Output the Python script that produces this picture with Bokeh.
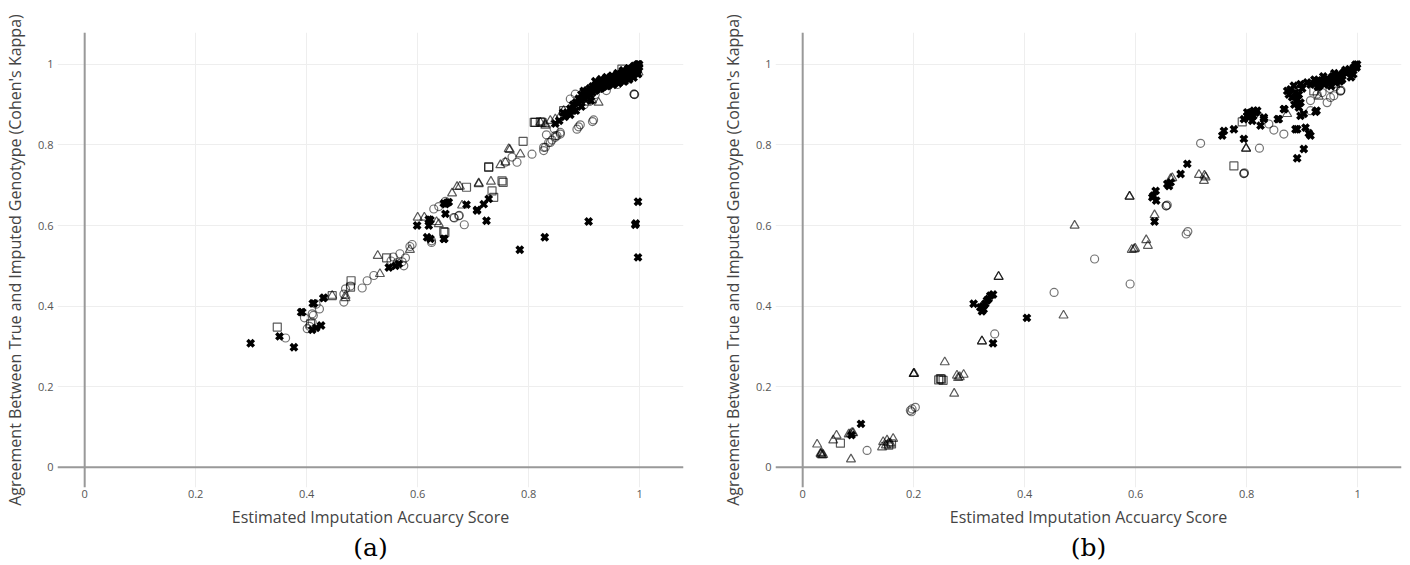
from bokeh.plotting import figure
from bokeh.layouts import row
from bokeh.models import Span, Title, Range1d, FixedTicker
from bokeh.embed import file_html
from bokeh.resources import INLINE

# ---- shared axis ticks ----
tick_values = [0, 0.2, 0.4, 0.6, 0.8, 1]
tick_labels = ["0", "0.2", "0.4", "0.6", "0.8", "1"]

x_title = "Estimated Imputation Accuarcy Score"
y_title = "Agreement Between True and Imputed Genotype (Cohen's Kappa)"

# ---- panel (a) ----
a_circle_x = [0.362, 0.396, 0.401, 0.405, 0.410, 0.410, 0.412, 0.417, 0.423, 0.467, 0.467, 0.470,
              0.479, 0.500, 0.509, 0.521, 0.552, 0.556, 0.563, 0.568, 0.572, 0.578, 0.575, 0.590,
              0.586, 0.625, 0.625, 0.629, 0.638, 0.650, 0.665, 0.674, 0.684, 0.666, 0.675,
              0.758, 0.770, 0.779, 0.806, 0.827, 0.830, 0.827, 0.836, 0.839, 0.842, 0.848, 0.848,
              0.851, 0.857, 0.857, 0.832, 0.846, 0.887, 0.893, 0.890, 0.917, 0.915, 0.875, 0.884,
              0.878, 0.930, 0.940, 0.950, 0.960, 0.970, 0.975, 0.985, 0.990, 0.995, 0.900, 0.910,
              0.920, 0.990, 0.990, 0.991]
a_circle_y = [0.321, 0.371, 0.344, 0.350, 0.381, 0.360, 0.377, 0.405, 0.393, 0.410, 0.430, 0.443,
              0.450, 0.445, 0.463, 0.476, 0.512, 0.522, 0.508, 0.530, 0.510, 0.520, 0.500, 0.553,
              0.548, 0.558, 0.562, 0.641, 0.647, 0.660, 0.620, 0.624, 0.602, 0.619, 0.625,
              0.757, 0.770, 0.757, 0.777, 0.786, 0.794, 0.794, 0.806, 0.806, 0.812, 0.819, 0.823,
              0.823, 0.827, 0.831, 0.825, 0.840, 0.839, 0.850, 0.845, 0.862, 0.858, 0.914, 0.926,
              0.893, 0.940, 0.935, 0.955, 0.950, 0.965, 0.960, 0.975, 0.985, 0.990, 0.900, 0.915,
              0.925, 0.926, 0.926, 0.925]

a_tri_x = [0.446, 0.470, 0.470, 0.528, 0.532, 0.586, 0.600, 0.612, 0.634, 0.638, 0.662, 0.671,
           0.676, 0.680, 0.710, 0.710, 0.732, 0.749, 0.758, 0.764, 0.766, 0.785, 0.821, 0.830,
           0.830, 0.839, 0.848, 0.857, 0.863, 0.905, 0.914, 0.926, 0.995, 0.998, 0.940, 0.960,
           0.975, 0.985]
a_tri_y = [0.426, 0.420, 0.426, 0.525, 0.480, 0.540, 0.620, 0.620, 0.609, 0.604, 0.680, 0.696,
           0.697, 0.650, 0.703, 0.705, 0.709, 0.750, 0.757, 0.790, 0.788, 0.777, 0.856, 0.852,
           0.848, 0.860, 0.864, 0.872, 0.885, 0.905, 0.911, 0.905, 0.976, 0.980, 0.945, 0.965,
           0.970, 0.990]

a_sq_x = [0.347, 0.407, 0.446, 0.480, 0.479, 0.544, 0.647, 0.649, 0.688, 0.728, 0.728, 0.734,
          0.737, 0.752, 0.754, 0.790, 0.810, 0.812, 0.821, 0.824, 0.863, 0.968, 0.995]
a_sq_y = [0.348, 0.356, 0.426, 0.463, 0.447, 0.520, 0.585, 0.583, 0.695, 0.744, 0.746, 0.686,
          0.670, 0.711, 0.707, 0.809, 0.856, 0.856, 0.857, 0.856, 0.885, 0.988, 0.995]

a_x_x = [0.299, 0.351, 0.377, 0.390, 0.392, 0.411, 0.413, 0.410, 0.417, 0.426, 0.430, 0.431,
         0.548, 0.566, 0.560, 0.599, 0.617, 0.623, 0.620, 0.623, 0.620, 0.647, 0.648, 0.647,
         0.650, 0.653, 0.656, 0.650, 0.688, 0.707, 0.707, 0.719, 0.728, 0.724,
         0.784, 0.829, 0.908, 0.992, 0.993, 0.997, 0.997,
         0.848, 0.855, 0.862, 0.870, 0.875, 0.880, 0.885, 0.890, 0.895, 0.899, 0.903, 0.900,
         0.905, 0.910, 0.912, 0.865, 0.875, 0.880, 0.885, 0.890, 0.895, 0.895, 0.900, 0.905,
         0.910, 0.915,
         0.915, 0.920, 0.925, 0.928, 0.932, 0.935, 0.940, 0.942, 0.946, 0.950, 0.953, 0.956,
         0.960, 0.963, 0.966, 0.970, 0.973, 0.976, 0.979, 0.982, 0.985, 0.988, 0.991, 0.994,
         0.997, 0.999, 0.999, 0.996, 0.980, 0.970,
         0.920, 0.921, 0.930, 0.931, 0.940, 0.941, 0.950, 0.952, 0.960, 0.962, 0.970, 0.972,
         0.980, 0.981, 0.990, 0.989, 0.998, 0.997, 0.925, 0.945, 0.955, 0.975, 0.985, 0.995]
a_x_y = [0.308, 0.325, 0.298, 0.385, 0.385, 0.407, 0.407, 0.341, 0.346, 0.352, 0.420, 0.421,
         0.496, 0.505, 0.500, 0.600, 0.571, 0.567, 0.615, 0.614, 0.600, 0.567, 0.567, 0.655,
         0.653, 0.657, 0.658, 0.629, 0.652, 0.637, 0.639, 0.653, 0.666, 0.612,
         0.540, 0.571, 0.610, 0.602, 0.605, 0.659, 0.521,
         0.853, 0.860, 0.880, 0.878, 0.890, 0.900, 0.885, 0.905, 0.895, 0.934, 0.930, 0.915,
         0.920, 0.925, 0.910, 0.870, 0.875, 0.885, 0.905, 0.915, 0.910, 0.925, 0.930, 0.935,
         0.940, 0.930,
         0.945, 0.935, 0.950, 0.940, 0.955, 0.945, 0.960, 0.950, 0.962, 0.955, 0.968, 0.960,
         0.972, 0.965, 0.976, 0.970, 0.980, 0.975, 0.985, 0.978, 0.990, 0.984, 0.993, 0.988,
         0.997, 0.993, 1.000, 1.000, 0.990, 0.985,
         0.958, 0.936, 0.963, 0.941, 0.968, 0.946, 0.972, 0.949, 0.978, 0.953, 0.984, 0.957,
         0.990, 0.962, 0.996, 0.967, 1.000, 0.976, 0.947, 0.955, 0.965, 0.978, 0.972, 0.982]

# ---- panel (b) ----
b_circle_x = [0.116, 0.194, 0.197, 0.203, 0.196, 0.346, 0.453, 0.526, 0.590, 0.655, 0.655, 0.657,
              0.691, 0.694, 0.717, 0.795, 0.795, 0.796, 0.823, 0.840, 0.849, 0.867, 0.915, 0.915,
              0.927, 0.936, 0.951, 0.957, 0.945, 0.950, 0.960, 0.969, 0.969, 0.970, 0.930, 0.970,
              0.980, 0.990]
b_circle_y = [0.042, 0.141, 0.145, 0.149, 0.138, 0.331, 0.434, 0.517, 0.455, 0.649, 0.649, 0.651,
              0.579, 0.585, 0.804, 0.729, 0.729, 0.731, 0.792, 0.852, 0.837, 0.827, 0.885, 0.910,
              0.926, 0.930, 0.918, 0.922, 0.905, 0.940, 0.945, 0.934, 0.934, 0.936, 0.950, 0.960,
              0.975, 0.985]

b_tri_x = [0.026, 0.032, 0.035, 0.033, 0.037, 0.034, 0.055, 0.061, 0.087, 0.083, 0.086, 0.091,
           0.089, 0.143, 0.145, 0.152, 0.158, 0.163, 0.150, 0.155, 0.200, 0.200, 0.201, 0.256,
           0.273, 0.278, 0.283, 0.290, 0.280, 0.323, 0.323, 0.353, 0.353, 0.470, 0.490, 0.589,
           0.589, 0.593, 0.597, 0.599, 0.619, 0.622, 0.634, 0.666, 0.663, 0.714, 0.724, 0.723,
           0.726, 0.799, 0.799, 0.873, 0.930, 0.960]
b_tri_y = [0.057, 0.034, 0.030, 0.032, 0.031, 0.036, 0.067, 0.079, 0.020, 0.082, 0.083, 0.085,
           0.086, 0.050, 0.063, 0.067, 0.059, 0.071, 0.055, 0.060, 0.232, 0.232, 0.233, 0.261,
           0.183, 0.228, 0.224, 0.230, 0.222, 0.313, 0.313, 0.473, 0.473, 0.377, 0.600, 0.672,
           0.672, 0.540, 0.541, 0.543, 0.564, 0.550, 0.626, 0.718, 0.716, 0.726, 0.724, 0.711,
           0.720, 0.791, 0.791, 0.877, 0.920, 0.950]

b_sq_x = [0.068, 0.155, 0.160, 0.245, 0.248, 0.253, 0.250, 0.777, 0.792, 0.921, 0.950]
b_sq_y = [0.060, 0.055, 0.058, 0.217, 0.220, 0.216, 0.219, 0.748, 0.857, 0.934, 0.960]

b_x_x = [0.088, 0.105, 0.308, 0.320, 0.323, 0.326, 0.329, 0.332, 0.335, 0.338, 0.343, 0.325,
         0.343, 0.404,
         0.630, 0.632, 0.636, 0.637, 0.634, 0.657, 0.663, 0.660, 0.681, 0.693,
         0.756, 0.759, 0.777, 0.795, 0.795, 0.801, 0.801, 0.804, 0.807, 0.810, 0.813, 0.819,
         0.825, 0.831, 0.831, 0.805, 0.812, 0.816,
         0.856, 0.858, 0.867, 0.868, 0.873, 0.879, 0.885, 0.882, 0.888, 0.891, 0.891, 0.891,
         0.894, 0.897, 0.897, 0.897, 0.903, 0.903, 0.906, 0.909, 0.912, 0.915, 0.924, 0.926,
         0.876, 0.888, 0.900, 0.886, 0.894,
         0.915, 0.925, 0.935, 0.940, 0.945, 0.950, 0.955, 0.960, 0.965, 0.970, 0.975, 0.980,
         0.985, 0.990, 0.993, 0.997, 0.999, 0.996, 0.930, 0.960, 0.985,
         0.922, 0.928, 0.938, 0.948, 0.958, 0.968, 0.978, 0.988, 0.998, 0.932, 0.952, 0.972,
         0.992]
b_x_y = [0.080, 0.108, 0.406, 0.397, 0.387, 0.392, 0.406, 0.414, 0.418, 0.426, 0.429, 0.400,
         0.308, 0.371,
         0.670, 0.674, 0.686, 0.662, 0.610, 0.703, 0.707, 0.698, 0.728, 0.753,
         0.823, 0.835, 0.839, 0.815, 0.864, 0.881, 0.872, 0.868, 0.877, 0.860, 0.885, 0.885,
         0.848, 0.868, 0.864, 0.878, 0.872, 0.880,
         0.864, 0.864, 0.889, 0.889, 0.934, 0.938, 0.947, 0.918, 0.839, 0.839, 0.911, 0.767,
         0.893, 0.905, 0.872, 0.951, 0.877, 0.790, 0.843, 0.955, 0.829, 0.823, 0.882, 0.885,
         0.925, 0.930, 0.940, 0.900, 0.925,
         0.950, 0.955, 0.960, 0.950, 0.965, 0.960, 0.970, 0.965, 0.975, 0.970, 0.980, 0.978,
         0.988, 0.985, 0.992, 0.995, 1.000, 0.999, 0.945, 0.955, 0.980,
         0.962, 0.944, 0.970, 0.952, 0.978, 0.958, 0.986, 0.968, 0.992, 0.958, 0.946, 0.962,
         0.975]

panels = [
    dict(tag="(a)", circle=(a_circle_x, a_circle_y), tri=(a_tri_x, a_tri_y),
         sq=(a_sq_x, a_sq_y), cross=(a_x_x, a_x_y)),
    dict(tag="(b)", circle=(b_circle_x, b_circle_y), tri=(b_tri_x, b_tri_y),
         sq=(b_sq_x, b_sq_y), cross=(b_x_x, b_x_y)),
]

FONT = "Open Sans"
AXIS_GREY = "#444444"
FRAME_W = 626
FRAME_H = 455


def make_panel(spec, border_left, border_right):
    p = figure(width=border_left + FRAME_W + border_right, height=565,
               output_backend="svg", toolbar_location=None,
               x_range=Range1d(-0.049, 1.079), y_range=Range1d(-0.05, 1.079),
               min_border_left=border_left, min_border_right=border_right,
               min_border_top=32, min_border_bottom=565 - 32 - FRAME_H)
    p.outline_line_color = None
    p.background_fill_color = "white"
    p.border_fill_color = "white"

    for ax in (p.xaxis[0], p.yaxis[0]):
        ax.ticker = FixedTicker(ticks=tick_values)
        ax.major_label_overrides = dict(zip(tick_values, tick_labels))
        ax.axis_line_color = None
        ax.major_tick_line_color = None
        ax.major_tick_out = 0
        ax.major_tick_in = 0
        ax.minor_tick_line_color = None
        ax.minor_tick_out = 0
        ax.minor_tick_in = 0
        ax.major_label_text_font = FONT
        ax.major_label_text_font_size = "11px"
        ax.major_label_text_color = "#555555"
        ax.axis_label_text_font = FONT
        ax.axis_label_text_font_size = "16px"
        ax.axis_label_text_font_style = "normal"
        ax.axis_label_text_color = AXIS_GREY
    p.xaxis.axis_label = x_title
    p.yaxis.axis_label = y_title
    p.xaxis.major_label_standoff = 2
    p.xaxis.axis_label_standoff = 5
    p.yaxis.major_label_standoff = 4
    p.yaxis.axis_label_standoff = 9

    p.xgrid.ticker = FixedTicker(ticks=tick_values)
    p.ygrid.ticker = FixedTicker(ticks=tick_values)
    p.grid.grid_line_color = "#eeeeee"
    p.grid.grid_line_width = 1

    # zero lines drawn under the markers
    for dim in ("height", "width"):
        p.add_layout(Span(location=0, dimension=dim, line_color="#999999",
                          line_width=2, level="underlay"))

    cx, cy = spec["circle"]
    p.scatter(cx, cy, marker="circle", size=8, fill_color=None,
              line_color="black", line_alpha=0.55, line_width=1.2)
    tx, ty = spec["tri"]
    p.scatter(tx, ty, marker="triangle", size=9, fill_color=None,
              line_color="black", line_alpha=0.65, line_width=1.2)
    sx, sy = spec["sq"]
    p.scatter(sx, sy, marker="square", size=8, fill_color=None,
              line_color="black", line_alpha=0.65, line_width=1.2)
    xx, xy = spec["cross"]
    p.scatter(xx, xy, marker="x", size=9, line_color="black", line_width=3.5)

    # panel tag under the axis title
    tag = Title(text=spec["tag"], align="center", offset=-22,
                text_font="DejaVu Serif", text_font_size="25px",
                text_font_style="normal", text_color="black", standoff=1)
    p.add_layout(tag, "below")
    return p


p1 = make_panel(panels[0], 57, 22)
p2 = make_panel(panels[1], 70, 8)

layout = row(p1, p2)
open("out.html", "w").write(file_html(layout, INLINE))
